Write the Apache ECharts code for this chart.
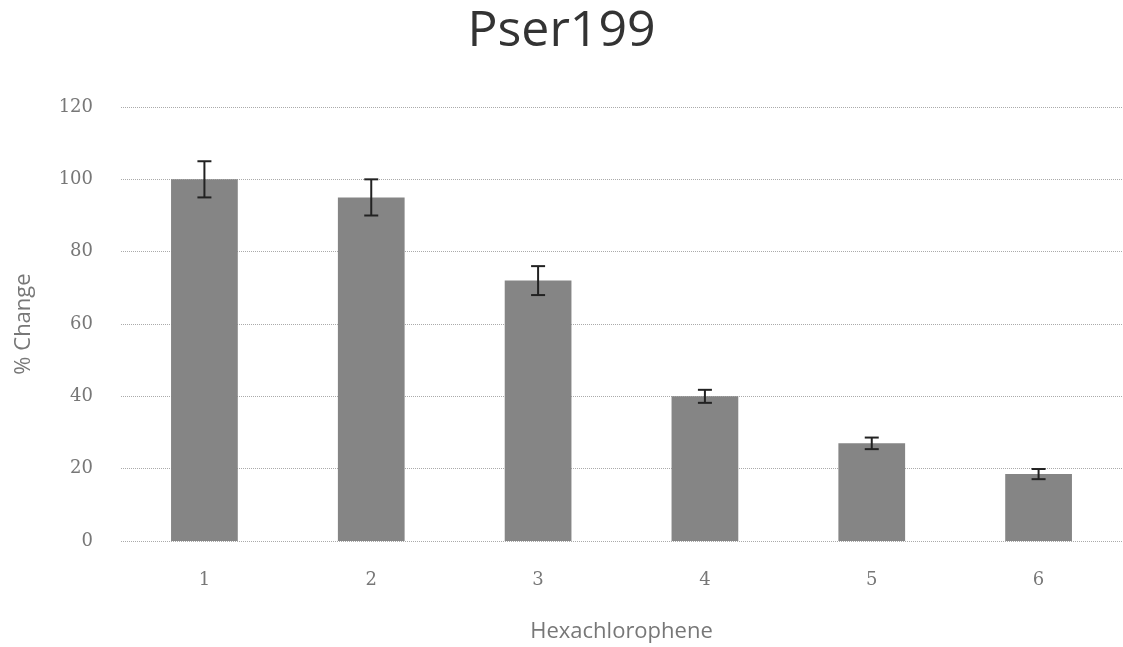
<!DOCTYPE html>
<html><head><meta charset="utf-8">
<script src="https://cdn.jsdelivr.net/npm/echarts@6/dist/echarts.min.js"></script>
<style>html,body{margin:0;padding:0;background:#fff}#c{width:1123px;height:647px}</style>
</head><body><div id="c"></div>
<script>
const categories = ['1','2','3','4','5','6'];
const values = [100, 95, 72, 40, 27, 18.5];
const errors = [5, 5, 4, 1.8, 1.6, 1.4];
const yTicks = [0, 20, 40, 60, 80, 100, 120];

const chart = echarts.init(document.getElementById('c'));
const errData = values.map((v,i)=>[i, v - errors[i], v + errors[i]]);
chart.setOption({
  animation:false,
  title:{text:'Pser199', left:'center', top:2, textStyle:{fontFamily:'Open Sans', fontSize:50, fontWeight:'normal', color:'#333'}},
  grid:{left:121, right:1, top:107, bottom:106, outerBoundsMode:'none', containLabel:false},
  xAxis:{type:'category', data:categories, axisLine:{show:false}, axisTick:{show:false},
    axisLabel:{fontFamily:'DejaVu Serif', fontSize:18, color:'#777', margin:30},
    name:'Hexachlorophene', nameLocation:'middle', nameGap:80,
    nameTextStyle:{fontFamily:'Open Sans', fontSize:22, color:'#777'}},
  yAxis:{type:'value', min:0, max:120, interval:20,
    axisLine:{show:false}, axisTick:{show:false},
    axisLabel:{fontFamily:'DejaVu Serif', fontSize:18, color:'#777', margin:28},
    splitLine:{lineStyle:{type:'dotted', color:'#aaa', width:1}},
    name:'% Change', nameLocation:'middle', nameGap:86,
    nameTextStyle:{fontFamily:'Open Sans', fontSize:22, color:'#777'}},
  series:[
    {type:'bar', data:values, barWidth:'40%', itemStyle:{color:'#858585'}},
    {type:'custom', data:errData, z:10,
     renderItem:function(params, api){
       const x = api.value(0);
       const lo = api.coord([x, api.value(1)]);
       const hi = api.coord([x, api.value(2)]);
       const w = 7;
       const st = {stroke:'#222', lineWidth:2};
       return {type:'group', children:[
         {type:'line', shape:{x1:hi[0], y1:hi[1], x2:lo[0], y2:lo[1]}, style:st},
         {type:'line', shape:{x1:hi[0]-w, y1:hi[1], x2:hi[0]+w, y2:hi[1]}, style:st},
         {type:'line', shape:{x1:lo[0]-w, y1:lo[1], x2:lo[0]+w, y2:lo[1]}, style:st}
       ]};
     }}
  ]
});
</script></body></html>
